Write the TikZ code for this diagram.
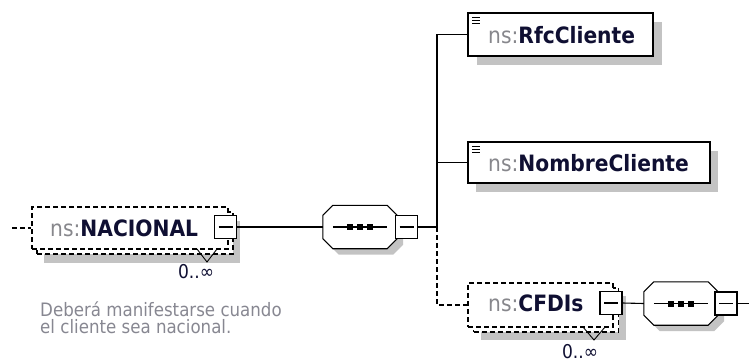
\documentclass[tikz,border=0pt]{standalone}
\usepackage{fontspec}
\setmainfont{DejaVu Sans Condensed}
\usetikzlibrary{calc}
\definecolor{nsgray}{RGB}{135,135,140}
\definecolor{namecol}{RGB}{15,15,50}
\definecolor{shadowcol}{RGB}{195,195,195}
\definecolor{desccol}{RGB}{135,135,145}
\tikzset{
  ln/.style={line width=1.1pt, black},
  dln/.style={line width=1.1pt, black, dash pattern=on 5pt off 3pt},
  elembox/.style={draw, ln, fill=white, rectangle, inner sep=0pt},
  optbox/.style={draw, dln, fill=white, rectangle, inner sep=0pt},
  shadowbox/.style={fill=shadowcol, draw=none, rectangle, inner sep=0pt},
  btn/.style={draw, ln, fill=white, rectangle, inner sep=0pt, minimum width=22pt, minimum height=23pt,
    path picture={\draw[ln] ($(path picture bounding box.west)+(4pt,0)$) -- ($(path picture bounding box.east)+(-4pt,0)$);}},
  seqbase/.style={draw=none, rectangle, inner sep=0pt, minimum width=74pt, minimum height=43pt},
  lbl/.style={anchor=west, inner sep=0pt, font=\fontsize{22.5}{26}\selectfont},
  mult/.style={inner sep=0pt, font=\fontsize{19}{22}\selectfont, text=namecol},
  desc/.style={anchor=west, inner sep=0pt, font=\fontsize{18.5}{21}\selectfont, text=desccol},
}
\newcommand{\nsname}[1]{\textcolor{nsgray}{ns:}\textcolor{namecol}{\textbf{#1}}}
% octagon around a node: #1 node name, #2 style, #3 shift
\newcommand{\octo}[3]{%
  \path[#2] ($(#1.north west)+(10pt,0)+#3$) -- ($(#1.north east)+(-10pt,0)+#3$)
    -- ($(#1.north east)+(0,-10pt)+#3$) -- ($(#1.south east)+(0,10pt)+#3$)
    -- ($(#1.south east)+(-10pt,0)+#3$) -- ($(#1.south west)+(10pt,0)+#3$)
    -- ($(#1.south west)+(0,10pt)+#3$) -- ($(#1.north west)+(0,-10pt)+#3$) -- cycle;}
\newcommand{\seqdots}[1]{%
  \draw[ln] ($(#1.west)+(10pt,0)$) -- ($(#1.east)+(-10pt,0)$);
  \foreach \dx in {-10,0,10} \fill ($(#1.center)+(\dx pt,0)+(-3pt,-3pt)$) rectangle ++(6pt,6pt);}
\begin{document}
\begin{tikzpicture}[x=1pt,y=-1pt]
\useasboundingbox (0,0) rectangle (749,362);
% ---------- NACIONAL ----------
\node[shadowbox, minimum width=196pt, minimum height=42pt] (nacsh) at (142,242) {};
\node[optbox, minimum width=196pt, minimum height=42pt] (nacback) at (135,233) {};
\node[optbox, minimum width=196pt, minimum height=42pt] (nac) at (130,228) {};
\node[lbl] (naclbl) at (50,228) {\nsname{NACIONAL}};
\node[btn] (nacbtn) at (225.5,227) {};
\coordinate (nacin) at (12,228);
\draw[dln] (nacin) -- (nac.west);
\coordinate (nacv1) at (197,249);
\coordinate (nacv2) at (207,262);
\coordinate (nacv3) at (217,249);
\draw[ln, line width=0.9pt] (nacv1) -- (nacv2) -- (nacv3);
\node[mult] (nacmult) at (196,272) {0..∞};
\node[desc] (desc1) at (40,309) {Deberá manifestarse cuando};
\node[desc] (desc2) at (40,327) {el cliente sea nacional.};
% ---------- sequence 1 ----------
\node[seqbase] (seq1) at (360,227) {};
\octo{seq1}{fill=shadowcol}{(6pt,-6pt)}
\octo{seq1}{draw, ln, fill=white}{(0,0)}
\seqdots{seq1}
\node[btn] (seq1btn) at (406.5,227) {};
\draw[ln] (nacbtn.east) -- (seq1.west);
\coordinate (br) at (437,227);
\draw[ln] (seq1btn.east) -- (br);
% ---------- RfcCliente ----------
\node[shadowbox, minimum width=185pt, minimum height=43pt] (rfcsh) at (569,43) {};
\node[elembox, minimum width=185pt, minimum height=43pt] (rfc) at (560.5,34.5) {};
\foreach \yy in {17,20,23} \draw[line width=0.9pt] (472,\yy) -- (480,\yy);
\node[lbl] (rfclbl) at (488,35) {\nsname{RfcCliente}};
% ---------- NombreCliente ----------
\node[shadowbox, minimum width=242pt, minimum height=41pt] (nomsh) at (597,171.5) {};
\node[elembox, minimum width=242pt, minimum height=41pt] (nom) at (589,162.5) {};
\foreach \yy in {146,149,152} \draw[line width=0.9pt] (472,\yy) -- (480,\yy);
\node[lbl] (nomlbl) at (488,163) {\nsname{NombreCliente}};
% ---------- CFDIs ----------
\node[shadowbox, minimum width=145pt, minimum height=44pt] (cfdsh) at (553,318) {};
\node[optbox, minimum width=145pt, minimum height=44pt] (cfdback) at (546,310) {};
\node[optbox, minimum width=145pt, minimum height=44pt] (cfd) at (540.5,305) {};
\node[lbl] (cfdlbl) at (488,303) {\nsname{CFDIs}};
\node[btn] (cfdbtn) at (611,303) {};
\coordinate (cfdv1) at (583,327);
\coordinate (cfdv2) at (594,340);
\coordinate (cfdv3) at (605,327);
\draw[ln, line width=0.9pt] (cfdv1) -- (cfdv2) -- (cfdv3);
\node[mult] (cfdmult) at (580,352) {0..∞};
% ---------- sequence 2 ----------
\node[seqbase] (seq2) at (681,303.5) {};
\octo{seq2}{fill=shadowcol}{(6pt,-6pt)}
\octo{seq2}{draw, ln, fill=white}{(0,0)}
\seqdots{seq2}
\node[btn] (seq2btn) at (726,303.5) {};
\coordinate (seq2out) at (749,303.5);
\draw[ln] (cfdbtn.east) -- (seq2.west);
\draw[ln] (seq2btn.east) -- (seq2out);
% ---------- branch lines ----------
\coordinate (brtop) at (437,34.5);
\coordinate (brbot) at (437,305);
\draw[ln] (rfc.west) -- (brtop) -- (br);
\draw[ln] (nom.west) -- (437,162.5);
\draw[dln] (br) -- (brbot) -- (cfd.west);
\end{tikzpicture}
\end{document}
